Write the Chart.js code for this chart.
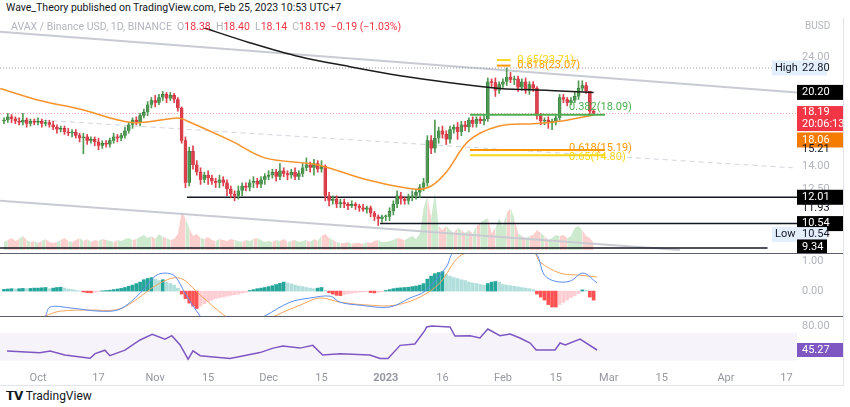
<!DOCTYPE html>
<html>
<head>
<meta charset="utf-8">
<script src="https://cdn.jsdelivr.net/npm/chart.js@4.4.1/dist/chart.umd.min.js"></script>
<style>
  body { margin: 0; background: #fff; font-family: Roboto, sans-serif; }
  #wrap { position: relative; width: 850px; height: 407px; overflow: hidden; }
  canvas { position: absolute; left: 0; }
  .sep { position: absolute; left: 0; width: 843px; height: 1px; background: #5d606b; }
  .txt { position: absolute; white-space: nowrap; font-size: 11px; }
</style>
</head>
<body>
<div id="wrap">
  <canvas id="price" style="top:28px" width="843" height="225"></canvas>
  <canvas id="macd" style="top:253px" width="843" height="63"></canvas>
  <canvas id="rsi" style="top:316px" width="843" height="70"></canvas>
  <div class="sep" style="top:253px"></div>
  <div class="sep" style="top:316px"></div>
  <div class="sep" style="top:385px;background:#e0e3eb"></div>
  <div style="position:absolute;left:843px;top:18px;width:1px;height:368px;background:#e0e3eb"></div>
  <div class="txt" style="left:6px;top:1px;color:#131722;font-size:10.5px">Wave_Theory published on TradingView.com, Feb 25, 2023 10:53 UTC+7</div>
  <div class="txt" style="left:11px;top:20px;color:#b2b5be;font-size:10.5px">AVAX / Binance USD, 1D, BINANCE &nbsp;O<span style="color:#f23645">18.38</span> &nbsp;H<span style="color:#f23645">18.40</span> &nbsp;L<span style="color:#f23645">18.14</span> &nbsp;C<span style="color:#f23645">18.19 &nbsp;−0.19 (−1.03%)</span></div>
  <div class="txt" style="left:805px;top:20px;color:#b2b5be;font-size:10px">BUSD</div>
  <div class="txt" style="left:6px;top:389px;color:#131722;font-size:12px"><b>⁠𝗧𝗩</b> TradingView</div>
</div>
<script>
// ---- data (day index 0 = 2022-09-22) ----
const closes = [
  17.6,17.9,17.7,17.5,17.4,17.6,17.3,17.5,17.4,
  17.5,17.3,17.4,17.2,17.0,16.8,16.9,16.6,16.5,16.6,
  16.3,16.1,16.2,15.9,16.0,15.8,15.5,15.7,15.6,15.9,
  16.2,16.1,16.3,16.7,17.2,17.6,17.4,18.0,18.3,19.0,
  19.4,19.2,19.7,20.0,19.6,19.9,19.5,18.7,
  15.9,12.9,15.1,14.1,13.6,13.1,13.4,13.2,13.0,12.9,13.1,12.9,12.5,
  12.2,12.1,12.4,12.7,12.6,12.9,13.0,12.8,13.1,13.3,
  13.4,13.6,13.3,13.7,13.5,13.4,13.6,13.3,13.5,13.9,
  14.1,13.9,14.2,13.8,14.0,
  12.1,11.8,11.9,11.6,11.7,
  11.6,11.5,11.6,11.5,11.4,11.3,11.4,11.1,10.9,10.8,10.9,
  10.9,11.2,11.6,12.1,11.9,11.8,12.0,12.1,12.3,12.6,12.9,
  15.9,
  15.3,16.1,16.7,16.4,16.0,16.8,17.0,16.6,17.2,17.0,17.6,17.3,17.7,17.5,17.7,
  21.3,21.2,20.4,21.0,
  21.3,21.8,21.5,21.6,20.7,21.3,20.4,21.0,20.6,
  18.0,17.5,17.6,17.4,17.5,17.8,
  19.7,19.5,19.2,19.4,19.8,
  20.6,20.9,20.3,18.38,18.19
];
const upWick = [
  0.2,0.3,0.2,0.2,0.3,0.6,0.2,0.2,0.2,
  0.3,0.2,0.2,0.2,0.3,0.2,0.2,0.2,0.3,0.2,
  0.2,0.2,0.3,0.2,0.2,0.2,0.3,0.2,0.2,0.2,
  0.3,0.2,0.2,0.3,0.2,0.2,0.3,0.2,0.3,0.3,
  0.3,0.5,0.3,0.3,0.2,0.3,0.2,0.2,
  0.1,0.3,0.3,0.4,0.3,0.3,0.2,0.3,0.2,0.2,0.3,0.2,0.2,
  0.2,0.2,0.3,0.2,0.2,0.2,0.3,0.2,0.2,0.2,
  0.3,0.2,0.2,0.5,0.2,0.2,0.2,0.3,0.2,0.3,
  0.5,0.2,0.3,0.2,0.4,
  0.1,0.2,0.2,0.2,0.2,
  0.2,0.1,0.2,0.1,0.1,0.2,0.1,0.1,0.1,0.1,0.1,
  0.1,0.2,0.2,0.3,0.2,0.1,0.2,0.3,0.2,0.2,0.3,
  0.4,
  0.4,1.5,0.3,0.4,0.3,0.3,0.2,0.4,0.3,0.3,0.2,0.3,0.2,0.2,0.3,
  0.4,0.3,0.5,0.3,
  0.3,1.0,0.5,0.3,0.3,0.3,0.4,0.3,0.3,
  0.2,0.2,0.2,0.3,0.2,0.2,
  0.3,0.3,0.2,0.3,0.5,
  0.8,0.5,0.3,0.02,0.21
];
const downWick = [
  0.2,0.2,0.3,0.2,0.2,0.2,0.3,0.2,0.2,
  0.2,0.3,0.2,0.2,0.2,0.3,0.2,0.2,0.2,0.3,
  0.2,0.3,1.2,0.3,0.2,0.3,0.3,0.2,0.2,0.2,
  0.2,0.3,0.2,0.2,0.2,0.3,0.2,0.3,0.2,0.3,
  0.3,0.4,0.2,0.3,0.4,0.2,0.3,0.3,
  0.2,0.3,0.2,0.3,0.2,0.3,0.2,0.4,0.2,0.3,0.3,0.2,0.4,
  0.2,0.3,0.2,0.3,0.2,0.2,0.3,0.2,0.2,0.3,
  0.2,0.2,0.3,0.2,0.2,0.3,0.2,0.2,0.2,0.2,
  0.2,0.3,0.5,0.2,0.2,
  0.3,0.3,0.2,0.2,0.2,
  0.2,0.2,0.1,0.2,0.2,0.1,0.2,0.2,0.2,0.36,0.2,
  0.2,0.2,0.2,0.2,0.3,0.2,0.2,0.2,0.2,0.3,0.2,
  0.2,
  0.4,0.3,0.4,0.3,0.4,0.3,0.3,0.6,0.3,0.3,0.4,0.3,0.3,0.2,0.3,
  0.2,0.4,0.6,0.3,
  0.3,0.4,0.3,0.5,0.4,0.3,0.3,0.4,0.3,
  0.3,0.3,0.3,0.5,0.6,0.3,
  0.2,0.3,0.3,0.2,0.2,
  0.3,0.3,0.2,0.2,0.05
];
const volume = [
  8,10,12,9,11,14,10,8,9,
  7,9,11,8,7,8,10,12,9,8,
  10,12,9,11,8,10,9,11,10,9,
  8,10,9,11,12,10,11,13,15,12,
  14,11,16,13,12,10,11,16,
  38,32,22,14,16,12,11,13,10,9,11,10,9,
  11,10,9,8,10,9,11,12,10,8,
  9,8,10,9,11,8,9,10,8,9,
  10,8,11,9,14,
  16,12,10,8,7,
  7,8,6,7,7,6,8,7,9,10,8,
  8,9,10,12,11,10,12,14,11,16,42,
  54,
  32,57,24,20,24,20,17,22,20,17,20,16,24,27,30,
  32,17,22,32,
  24,37,42,32,17,14,12,14,15,
  20,17,14,10,12,15,
  14,15,12,14,22,
  24,20,14,12,7
];
const macdHist = [
  0.06,0.07,0.08,0.07,0.08,0.09,0.08,0.09,0.1,
  0.1,0.11,0.12,0.08,0.1,0.12,0.13,0.1,0.07,0.05,
  0.03,0.01,-0.03,-0.05,-0.06,-0.04,-0.02,0.01,0.02,0.03,
  0.05,0.07,0.09,0.12,0.16,0.2,0.25,0.3,0.38,0.42,
  0.45,0.4,0.35,0.38,0.3,0.25,0.2,0.1,
  -0.1,-0.25,-0.4,-0.5,-0.58,-0.5,-0.42,-0.35,-0.3,-0.25,-0.22,-0.2,-0.17,
  -0.14,-0.12,-0.1,-0.07,-0.04,0.02,0.05,0.08,0.1,0.12,
  0.15,0.18,0.22,0.26,0.3,0.27,0.24,0.2,0.17,0.15,
  0.12,0.1,0.08,0.1,0.12,
  0.02,-0.05,-0.1,-0.14,-0.15,
  -0.12,-0.09,-0.07,-0.05,-0.04,-0.03,-0.02,-0.05,-0.06,-0.04,-0.02,
  0.02,0.05,0.08,0.1,0.11,0.12,0.13,0.15,0.17,0.2,0.25,
  0.4,
  0.5,0.58,0.62,0.65,0.55,0.5,0.45,0.42,0.38,0.35,0.3,0.27,0.25,0.22,0.2,
  0.25,0.3,0.32,0.3,
  0.22,0.2,0.18,0.16,0.14,0.12,0.1,0.08,0.05,
  -0.1,-0.2,-0.3,-0.45,-0.53,-0.53,
  -0.45,-0.38,-0.3,-0.22,-0.15,
  -0.08,0.04,0.03,-0.2,-0.3
];
// line key points [day, value]
const ma200 = [[38.6,30.4],[51.9,28.0],[65,25.85],[78.3,24.1],[91.5,22.95],[104.8,21.95],[118,21.2],[131.2,20.6],[144.4,20.4],[156,20.2]];
const ma50 = [[-1,20.6],[9.5,19.4],[20,18.6],[34,17.4],[46,17.8],[48,17.6],[60,15.9],[69,14.6],[83,14.1],[96,13.1],[109,12.5],[113,12.7],[117,13.6],[123,15.9],[131,17.1],[140,17.3],[147,17.5],[156,18.06]];
const macdLine = [[11,-0.83],[12.2,-0.53],[17.5,-0.56],[25.4,-0.67],[30.7,-0.6],[36,-0.07],[40,0.5],[42.6,0.6],[45.2,0.5],[47.9,-0.07],[51.9,-0.83],[57,-1.6],[69,-0.83],[75.7,-0.37],[81,-0.23],[86.3,-0.17],[88.9,-0.37],[94.2,-0.47],[102.1,-0.53],[107.4,-0.23],[111.4,0],[117,0.8],[119.3,1.3],[140,1.3],[143,0.53],[145.8,0.33],[149.7,0.33],[153.2,0.6],[156.9,0.27]];
const signalLine = [[10.8,-0.83],[14.8,-0.67],[22.8,-0.63],[29.4,-0.63],[33.3,-0.43],[41.3,0.27],[46.6,0.43],[51.9,-0.13],[58.5,-0.83],[65,-1.3],[71.7,-0.83],[78.3,-0.47],[83.6,-0.23],[88.9,-0.37],[96.8,-0.47],[103.5,-0.47],[110,-0.2],[115.3,0.27],[120.6,1.17],[126,1.3],[140,1.3],[141.8,0.97],[147.1,0.6],[152.4,0.53],[156.9,0.47]];
const rsiPts = [[0.8,43.8],[9.5,41.4],[12.2,43.8],[16.1,38],[22.8,33.2],[24.1,40],[26.7,45],[28,37],[32,45],[36,59.8],[39.2,68],[42.6,61],[44.4,66],[46.6,52.5],[48.7,32],[50,44],[51.9,37],[59.8,33],[67.7,41.5],[71.2,48],[73.8,51],[78.3,48],[81.7,52],[84.3,38],[88.9,40],[96.8,38],[99.5,33],[101.6,33],[104.8,52],[108.7,54],[111.4,74],[111.8,78.6],[113.2,80],[118,78.6],[119.3,65.5],[123.3,66],[125.9,62.6],[128,75.7],[131.2,66],[133.9,68.5],[136.5,62.6],[139.2,55.4],[140.8,45.3],[145.8,45.3],[147.1,55.4],[148.5,52.5],[152.4,61],[156.9,45.27]];
const fibLevels = [
  { v: 18.09, from: 123.3, to: 159, color: '#4caf50', label: '0.382(18.09)' },
  { v: 15.19, from: 123.3, to: 159, color: '#ff9800', label: '0.618(15.19)' },
  { v: 14.80, from: 123.3, to: 159, color: '#f7d716', label: '0.65(14.80)' },
  { v: 23.07, from: 130.4, to: 134, color: '#ff9800', label: '0.618(23.07)' },
  { v: 23.71, from: 130.4, to: 134, color: '#f7d716', label: '0.65(23.71)' }
];
const tickDays = [9, 25, 40, 54, 70, 84, 101, 116, 132, 146, 160, 174, 191, 207];
const tickLabels = ['Oct', '17', 'Nov', '15', 'Dec', '15', '2023', '16', 'Feb', '15', 'Mar', '15', 'Apr', '17'];

const X_MIN = -1.06, X_MAX = 209.8;
const opens = closes.map((c, i) => i === 0 ? 17.5 : closes[i - 1]);
const isUp = closes.map((c, i) => c >= opens[i]);
const GREEN = '#4f9a52', RED = '#e0404c';

function pts(arr) { return arr.map(p => ({ x: p[0], y: p[1] })); }
function seg(v, a, b, color, w, dash) {
  return { type: 'line', data: [{ x: a, y: v }, { x: b, y: v }], borderColor: color, borderWidth: w, borderDash: dash || [], pointRadius: 0, order: 5 };
}
function xAxis(show) {
  const ax = {
    type: 'linear', min: X_MIN, max: X_MAX, display: show, offset: false,
    grid: { display: false, drawTicks: false }, border: { display: false },
    afterBuildTicks: a => { a.ticks = tickDays.map(v => ({ value: v })); },
    ticks: {
      autoSkip: false, maxRotation: 0, padding: 2, color: '#9598a1',
      font: ctx => ({ size: 11, family: 'Roboto', weight: tickLabels[ctx.index] === '2023' ? 'bold' : 'normal' }),
      callback: (v, i) => tickLabels[i]
    }
  };
  if (show) ax.afterFit = a => { a.height = 16; };
  return ax;
}
function yAxis(extra) {
  return Object.assign({
    position: 'right', grid: { display: false }, border: { display: false },
    ticks: { display: false }, afterFit: ax => { ax.width = 46; }
  }, extra);
}

// right-side labels drawn against the chart's own scale
function labelPlugin(items) {
  return {
    id: 'lbl',
    afterDraw(chart) {
      const ctx = chart.ctx, ys = chart.scales.y;
      ctx.save();
      ctx.font = '11px Roboto';
      ctx.textBaseline = 'middle';
      items.forEach(it => {
        const y = ys.getPixelForValue(it.v) + (it.dy || 0);
        const h = it.h || 15;
        if (it.bg) {
          ctx.fillStyle = it.bg;
          ctx.fillRect(it.x0 || 797, y - h / 2, it.w || 46, h);
        }
        ctx.fillStyle = it.color || '#b2b5be';
        ctx.textAlign = 'left';
        (it.text.split('\n')).forEach((t, k, all) => {
          ctx.fillText(t, (it.tx || 802), y + (k - (all.length - 1) / 2) * 12);
        });
      });
      ctx.restore();
    }
  };
}

const fibPlugin = {
  id: 'fib',
  afterDatasetsDraw(chart) {
    const ctx = chart.ctx, ys = chart.scales.y, xs = chart.scales.x;
    ctx.save();
    ctx.font = '11px Roboto';
    ctx.textBaseline = 'middle';
    fibLevels.forEach(f => {
      const y = ys.getPixelForValue(f.v);
      ctx.strokeStyle = f.color; ctx.lineWidth = 2;
      ctx.beginPath(); ctx.moveTo(xs.getPixelForValue(f.from), y); ctx.lineTo(xs.getPixelForValue(f.to), y); ctx.stroke();
      ctx.fillStyle = f.color;
      const lx = f.to > 150 ? xs.getPixelForValue(149.5) : xs.getPixelForValue(135.8);
      ctx.fillText(f.label, lx, y - (f.to > 150 && f.v > 16 ? 7 : 0) + (f.v < 15 ? 2 : (f.v < 16 ? -2 : 0)));
    });
    ctx.restore();
  }
};

Chart.defaults.font.family = 'Roboto';
Chart.defaults.animation = false;
const baseOpts = (x, y, extraScales) => ({
  responsive: false, maintainAspectRatio: false,
  layout: { padding: 0 },
  plugins: { legend: { display: false }, tooltip: { enabled: false } },
  scales: Object.assign({ x: x, y: y }, extraScales || {})
});

// ---- price panel ----
new Chart(document.getElementById('price'), {
  data: {
    datasets: [
      { type: 'line', yAxisID: 'yv', data: volume.map((v, i) => ({ x: i, y: v })), borderWidth: 0, pointRadius: 0,
        fill: { value: 0 }, backgroundColor: 'rgba(76,175,80,0.28)',
        segment: { backgroundColor: c => isUp[c.p1DataIndex] ? 'rgba(76,175,80,0.28)' : 'rgba(239,83,80,0.28)' }, order: 10 },
      seg(22.80, X_MIN, X_MAX, '#9598a1', 1, [1, 2]),
      seg(18.19, X_MIN, X_MAX, '#f7a1a8', 1, [1, 2]),
      { type: 'line', data: [{ x: 0.8, y: 17.8 }, { x: 208.7, y: 13.9 }], borderColor: '#d1d4dc', borderWidth: 1, borderDash: [5, 4], pointRadius: 0, order: 6 },
      { type: 'line', data: [{ x: -1.06, y: 27.3 }, { x: X_MAX, y: 20.2 }], borderColor: '#c9cbd3', borderWidth: 2, pointRadius: 0, order: 6 },
      { type: 'line', data: [{ x: -1.06, y: 11.8 }, { x: 178.8, y: 9.25 }], borderColor: '#c9cbd3', borderWidth: 2, pointRadius: 0, order: 6 },
      seg(12.01, 48.4, X_MAX, '#131722', 1.5),
      seg(10.54, 99.5, X_MAX, '#131722', 1.5),
      seg(9.34, X_MIN, 202, '#131722', 1.5),
      { type: 'bar', grouped: false, data: closes.map((c, i) => ({ x: i, y: [Math.min(c, opens[i]) - downWick[i], Math.max(c, opens[i]) + upWick[i]] })),
        backgroundColor: isUp.map(u => u ? GREEN : RED), barThickness: 1, order: 3 },
      { type: 'bar', grouped: false, data: closes.map((c, i) => ({ x: i, y: [opens[i], c] })),
        backgroundColor: isUp.map(u => u ? GREEN : RED), borderColor: isUp.map(u => u ? '#2e6b31' : '#b72a35'), borderWidth: 0.5,
        barThickness: 3, minBarLength: 1, order: 2 },
      { type: 'line', data: pts(ma50), borderColor: '#f7932b', borderWidth: 1.5, pointRadius: 0, tension: 0.35, order: 1 },
      { type: 'line', data: pts(ma200), borderColor: '#1c1c1c', borderWidth: 1.5, pointRadius: 0, tension: 0.35, order: 1 }
    ]
  },
  options: baseOpts(xAxis(false), yAxis({ type: 'logarithmic', min: 9.11, max: 27.8 }),
    { yv: { display: false, min: -3, max: 222 } }),
  plugins: [fibPlugin, labelPlugin([
    { v: 24.0, text: '24.00' },
    { v: 22.8, text: 'High', bg: '#e3effd', x0: 772, w: 25, tx: 775, color: '#131722' },
    { v: 22.8, text: '22.80', bg: '#e3effd', w: 30, color: '#131722' },
    { v: 20.2, text: '20.20', bg: '#000', color: '#fff' },
    { v: 18.19, text: '18.19\n20:06:13', bg: '#f23645', color: '#fff', h: 25, dy: 5 },
    { v: 18.06, text: '18.06', bg: '#f57c00', color: '#fff', dy: 25 },
    { v: 15.21, text: '15.21', color: '#131722' },
    { v: 14.0, text: '14.00' },
    { v: 12.5, text: '12.50' },
    { v: 12.01, text: '12.01', bg: '#000', color: '#fff' },
    { v: 11.93, text: '11.93', color: '#131722', dy: 10 },
    { v: 10.54, text: '10.54', bg: '#000', color: '#fff' },
    { v: 10.54, text: 'Low', bg: '#e3effd', x0: 772, w: 25, tx: 775, color: '#131722', dy: 11 },
    { v: 10.54, text: '10.54', bg: '#e3effd', w: 30, color: '#131722', dy: 11 },
    { v: 9.34, text: '9.34', bg: '#000', color: '#fff', w: 30, dy: -1 }
  ])]
});

// ---- MACD panel ----
const histColors = macdHist.map((h, i) => {
  const prev = i ? macdHist[i - 1] : h;
  if (h >= 0) return h >= prev ? '#26a69a' : '#b2dfdb';
  return h <= prev ? '#ff5252' : '#ffcdd2';
});
new Chart(document.getElementById('macd'), {
  data: {
    datasets: [
      { type: 'line', data: pts(macdLine), borderColor: '#5b8def', borderWidth: 1, pointRadius: 0, tension: 0.35, order: 1 },
      { type: 'line', data: pts(signalLine), borderColor: '#f6a45c', borderWidth: 1, pointRadius: 0, tension: 0.35, order: 1 },
      { type: 'bar', data: macdHist.map((h, i) => ({ x: i, y: h })), backgroundColor: histColors, barThickness: 3, order: 2 }
    ]
  },
  options: baseOpts(xAxis(false), yAxis({ type: 'linear', min: -0.83, max: 1.27 })),
  plugins: [labelPlugin([{ v: 1.0, text: '1.00' }, { v: 0.0, text: '0.00' }])]
});

// ---- RSI panel ----
const bandPlugin = {
  id: 'band',
  beforeDatasetsDraw(chart) {
    const { ctx, chartArea, scales } = chart;
    const y1 = scales.y.getPixelForValue(70), y2 = scales.y.getPixelForValue(30);
    ctx.save();
    ctx.fillStyle = 'rgba(126,87,194,0.07)';
    ctx.fillRect(chartArea.left, y1, chartArea.right - chartArea.left, y2 - y1);
    ctx.restore();
  }
};
new Chart(document.getElementById('rsi'), {
  data: {
    datasets: [
      { type: 'line', data: pts(rsiPts), borderColor: '#7e57c2', borderWidth: 1.5, pointRadius: 0, tension: 0 }
    ]
  },
  options: baseOpts(xAxis(true), yAxis({ type: 'linear', min: 16.3, max: 94.5 })),
  plugins: [bandPlugin, labelPlugin([
    { v: 80, text: '80.00' },
    { v: 45.27, text: '45.27', bg: '#7e57c2', color: '#fff', h: 14 }
  ])]
});
</script>
</body>
</html>
